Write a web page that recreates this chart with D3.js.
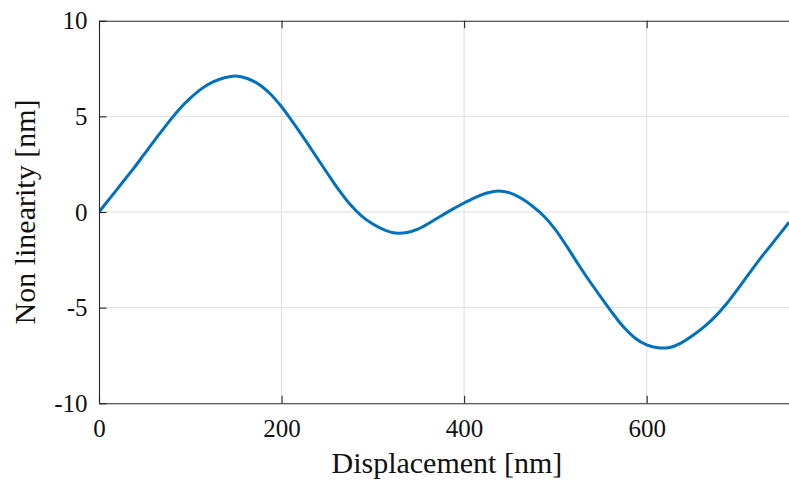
<!DOCTYPE html>
<html>
<head>
<meta charset="utf-8">
<script src="https://cdn.jsdelivr.net/npm/d3@7/dist/d3.min.js"></script>
<style>
  html, body { margin: 0; padding: 0; background: #fff; }
  svg { display: block; }
  text { font-family: "Liberation Serif", "Times New Roman", serif; fill: #111; }
</style>
</head>
<body>
<svg id="chart" width="789" height="480"></svg>
<script>
// Data
const displacement = [0, 12.5, 25, 37.5, 50, 62.5, 75, 87.5, 100, 112.5, 125, 137.5, 150, 162.5, 175, 187.5, 200, 212.5, 225, 237.5, 250, 262.5, 275, 287.5, 300, 312.5, 325, 337.5, 350, 362.5, 375, 387.5, 400, 412.5, 425, 437.5, 450, 462.5, 475, 487.5, 500, 512.5, 525, 537.5, 550, 562.5, 575, 587.5, 600, 612.5, 625, 637.5, 650, 662.5, 675, 687.5, 700, 712.5, 725, 737.5, 750, 756];
const nonLinearity = [0, 0.75, 1.5, 2.25, 3.05, 3.85, 4.62, 5.35, 5.95, 6.45, 6.8, 7.02, 7.11, 6.98, 6.68, 6.18, 5.5, 4.68, 3.82, 2.93, 2.04, 1.17, 0.4, -0.2, -0.63, -0.93, -1.1, -1.07, -0.88, -0.56, -0.2, 0.15, 0.47, 0.77, 0.99, 1.1, 1.0, 0.72, 0.3, -0.22, -0.92, -1.8, -2.73, -3.62, -4.46, -5.28, -6.03, -6.6, -6.95, -7.1, -7.08, -6.85, -6.47, -6.02, -5.47, -4.8, -4.02, -3.2, -2.4, -1.65, -0.9, -0.53];
const xTicks = [0, 200, 400, 600];
const yTicks = [-10, -5, 0, 5, 10];
const xDomain = [0, 760];
const yDomain = [-10, 10];
const xLabel = "Displacement [nm]";
const yLabel = "Non linearity [nm]";

(function () {
const svg = d3.select("#chart");
const pLeft = 99, pTop = 20.7, pBottom = 403.3;
const pRight = pLeft + 760 * 0.9128;

const x = d3.scaleLinear().domain(xDomain).range([pLeft, pRight]);
const y = d3.scaleLinear().domain(yDomain).range([pBottom, pTop]);

svg.append("defs").append("clipPath").attr("id", "plotclip")
  .append("rect").attr("x", pLeft).attr("y", pTop)
  .attr("width", pRight - pLeft).attr("height", pBottom - pTop);

// grid
const grid = svg.append("g").attr("stroke", "#dedede").attr("stroke-width", 1);
grid.selectAll("line.gx").data(xTicks.filter(d => d > xDomain[0])).join("line")
  .attr("x1", d => x(d)).attr("x2", d => x(d)).attr("y1", pTop).attr("y2", pBottom);
grid.selectAll("line.gy").data(yTicks.filter(d => d > yDomain[0] && d < yDomain[1])).join("line")
  .attr("x1", pLeft).attr("x2", pRight).attr("y1", d => y(d)).attr("y2", d => y(d));

// curve
const pts = displacement.map((d, i) => [d, nonLinearity[i]]);
svg.append("path")
  .datum(pts)
  .attr("clip-path", "url(#plotclip)")
  .attr("fill", "none")
  .attr("stroke", "#0072BD")
  .attr("stroke-width", 3)
  .attr("stroke-linejoin", "round")
  .attr("d", d3.line().x(d => x(d[0])).y(d => y(d[1])).curve(d3.curveCatmullRom.alpha(0.5)));

// axes
const tickLen = 7.5;
const axisColor = "#262626";
function styleAxis(g) {
  g.select(".domain").attr("stroke", axisColor).attr("stroke-width", 1.1);
  g.selectAll(".tick line").attr("stroke", axisColor).attr("stroke-width", 1.1);
  g.selectAll(".tick text").attr("fill", "#111").style("font-size", "25px")
    .style("font-family", '"Liberation Serif", serif');
}
const fmt = d => String(d).replace("\u2212", "-");

svg.append("g").attr("transform", `translate(0,${pBottom})`)
  .call(d3.axisBottom(x).tickValues(xTicks).tickSizeInner(-tickLen).tickSizeOuter(0).tickPadding(0).tickFormat(fmt))
  .call(styleAxis)
  .call(g => g.selectAll(".tick text").attr("dy", null).attr("y", 33.5));

svg.append("g").attr("transform", `translate(0,${pTop})`)
  .call(d3.axisTop(x).tickValues(xTicks).tickSizeInner(-tickLen).tickSizeOuter(0).tickFormat(""))
  .call(styleAxis);

svg.append("g").attr("transform", `translate(${pLeft},0)`)
  .call(d3.axisLeft(y).tickValues(yTicks).tickSizeInner(-tickLen).tickSizeOuter(0).tickPadding(0).tickFormat(fmt))
  .call(styleAxis)
  .call(g => g.selectAll(".tick text").attr("dy", null).attr("x", -11.5).attr("y", 8));

// labels
svg.append("text")
  .attr("x", (pLeft + pRight) / 2 + 1).attr("y", 473)
  .attr("text-anchor", "middle")
  .style("font-size", "30px")
  .text(xLabel);

svg.append("text")
  .attr("transform", `translate(34.5,${(pTop + pBottom) / 2}) rotate(-90)`)
  .attr("text-anchor", "middle")
  .style("font-size", "30px")
  .text(yLabel);
})();
</script>
</body>
</html>
